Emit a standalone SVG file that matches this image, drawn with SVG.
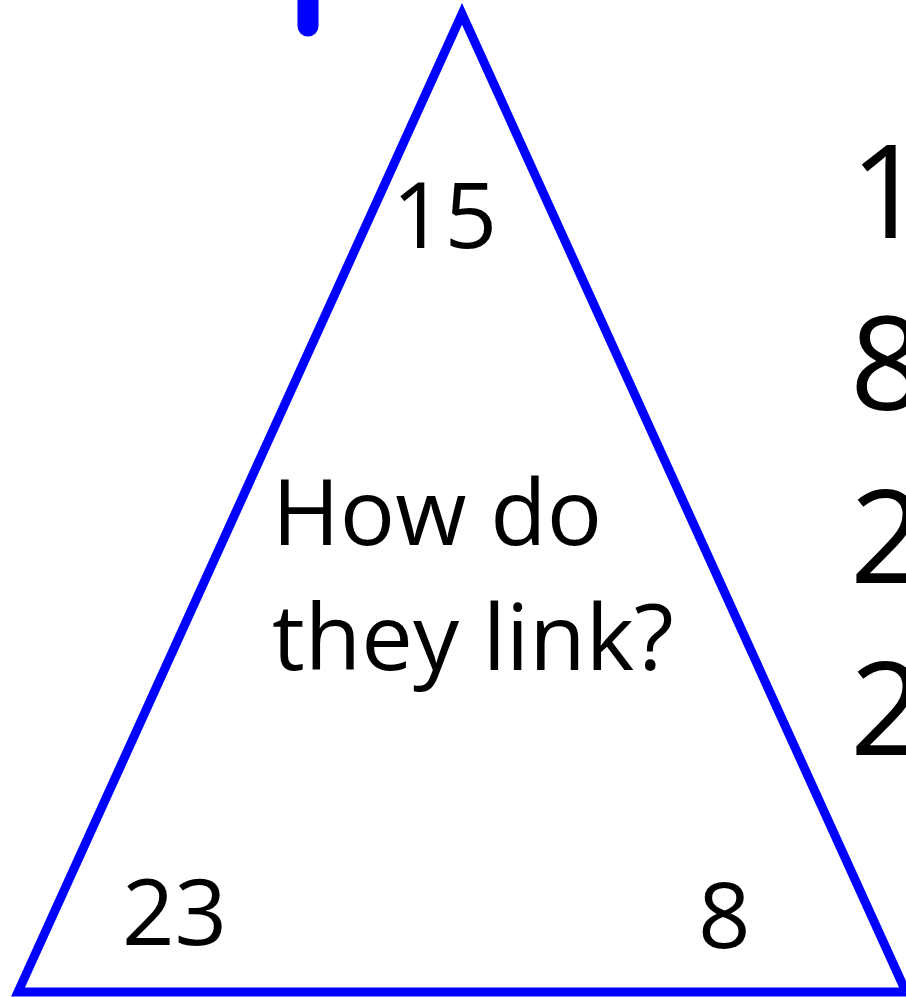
<svg xmlns="http://www.w3.org/2000/svg" width="906" height="997" viewBox="0 0 906 997">
<style>
.t{font-family:"Open Sans","Liberation Sans",sans-serif;fill:#000}
.s{font-size:92px}
.b{font-size:130px}
</style>
<rect width="906" height="997" fill="#fff"/>
<g id="stub"><line x1="308" y1="-30" x2="308" y2="26" stroke="#0000ff" stroke-width="21" stroke-linecap="round"/></g>
<g id="triangle">
<polygon points="18,992 462,14 906,992" fill="none" stroke="#0000ff" stroke-width="9" stroke-linejoin="miter"/>
<text class="t s" x="392" y="248">15</text>
<text class="t s" x="272" y="545">How do</text>
<text class="t s" x="272" y="670">they link?</text>
<text class="t s" x="122" y="945">23</text>
<text class="t s" x="698" y="948">8</text>
</g>
<g id="list">
<text class="t b" x="850" y="238">1</text>
<text class="t b" x="850" y="410">8</text>
<text class="t b" x="850" y="583">2</text>
<text class="t b" x="850" y="755">2</text>
</g>
</svg>
